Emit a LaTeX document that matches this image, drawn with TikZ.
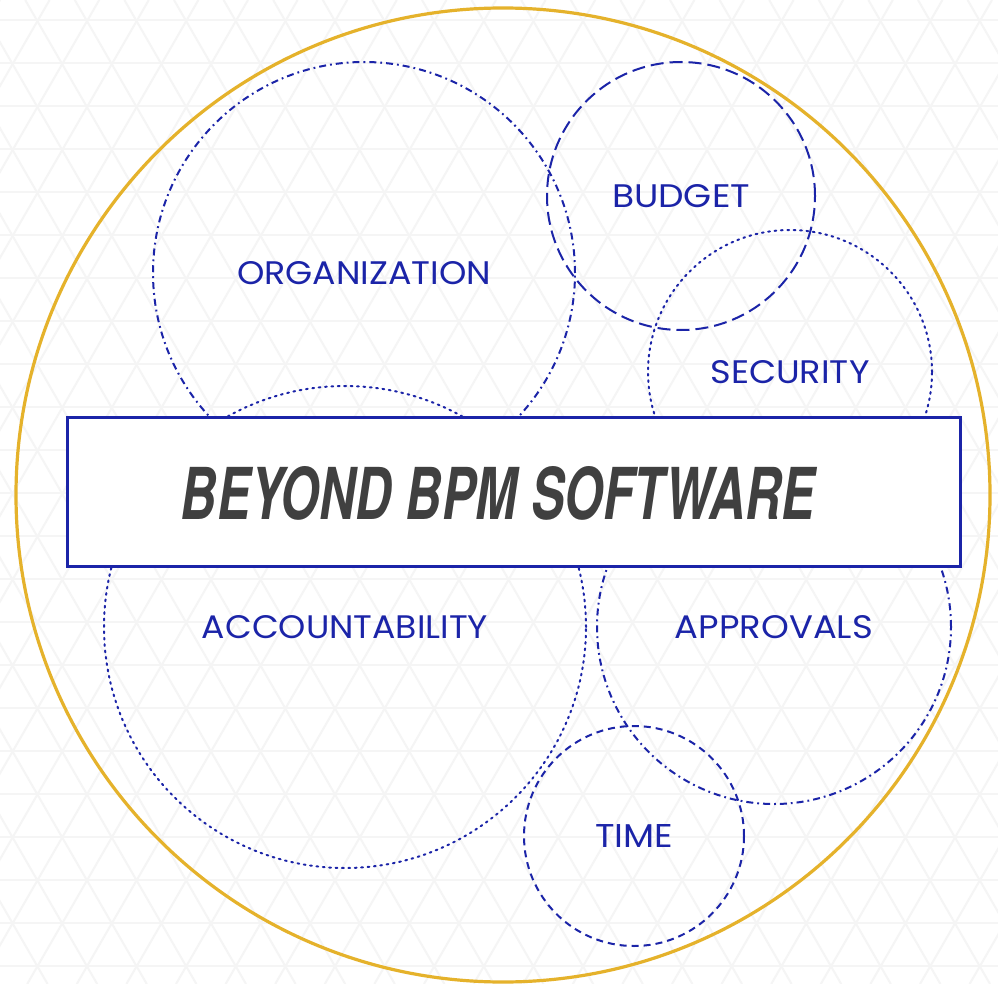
\documentclass[tikz,border=0pt]{standalone}
\usepackage{graphicx}
\usepackage{fontspec}
\setmainfont{Poppins}
\newfontfamily\titlefont{TeX Gyre Heros}
\definecolor{bblue}{RGB}{27,36,168}
\definecolor{bgold}{RGB}{229,178,43}
\definecolor{bgray}{RGB}{64,64,64}
\definecolor{bpat}{RGB}{245,245,245}
\newcommand{\lbl}[2]{\resizebox{#1pt}{23pt}{#2}}
\begin{document}
\begin{tikzpicture}[x=1pt,y=-1pt,
  topic/.style={circle,draw=bblue,line width=2pt,inner sep=0pt,text=bblue},
  dashdot/.style={dash pattern=on 7pt off 4pt on 1.8pt off 4pt},
  longdash/.style={dash pattern=on 13pt off 6pt},
  shortdash/.style={dash pattern=on 7pt off 5pt},
  dotline/.style={dash pattern=on 1.8pt off 4.6pt,line cap=round},
  patline/.style={draw=bpat,line width=2pt},
]
\useasboundingbox (0,0) rectangle (998,984);
\fill[white] (0,0) rectangle (998,984);
\begin{scope}
  \clip (0,0) rectangle (998,984);
  \foreach \yy in {20,63,...,990} {\draw[patline] (0,\yy) -- (998,\yy);}
  \foreach \xx in {-570,-520.4,...,1000} {\draw[patline] (\xx,0) -- ++(568,984);}
  \foreach \xx in {0,49.6,...,1570} {\draw[patline] (\xx,0) -- ++(-568,984);}
\end{scope}
\node[circle,draw=bgold,line width=3.2pt,minimum size=974pt,inner sep=0pt] (outer) at (503,495) {};
\node[topic,dashdot,minimum size=422pt] (org) at (364,273) {\lbl{254}{ORGANIZATION}};
\node[topic,longdash,minimum size=268pt] (budget) at (681,196) {\lbl{138}{BUDGET}};
\node[topic,dotline,minimum size=284pt] (security) at (790,372) {\lbl{159}{SECURITY}};
\node[topic,dotline,minimum size=482pt] (acc) at (345,627) {\lbl{286}{ACCOUNTABILITY}};
\node[topic,dashdot,minimum size=354pt] (appr) at (774,627) {\lbl{198}{APPROVALS}};
\node[topic,shortdash,minimum size=220pt] (time) at (634,836) {\lbl{78}{TIME}};
\node[draw=bblue,fill=white,line width=3pt,minimum width=893pt,minimum height=149pt,inner sep=0pt] (box) at (513.5,492) {};
\node[inner sep=0pt,text=bgray] (title) at (498,493) {\resizebox{634pt}{53pt}{\titlefont\bfseries\itshape BEYOND BPM SOFTWARE}};
\end{tikzpicture}
\end{document}
